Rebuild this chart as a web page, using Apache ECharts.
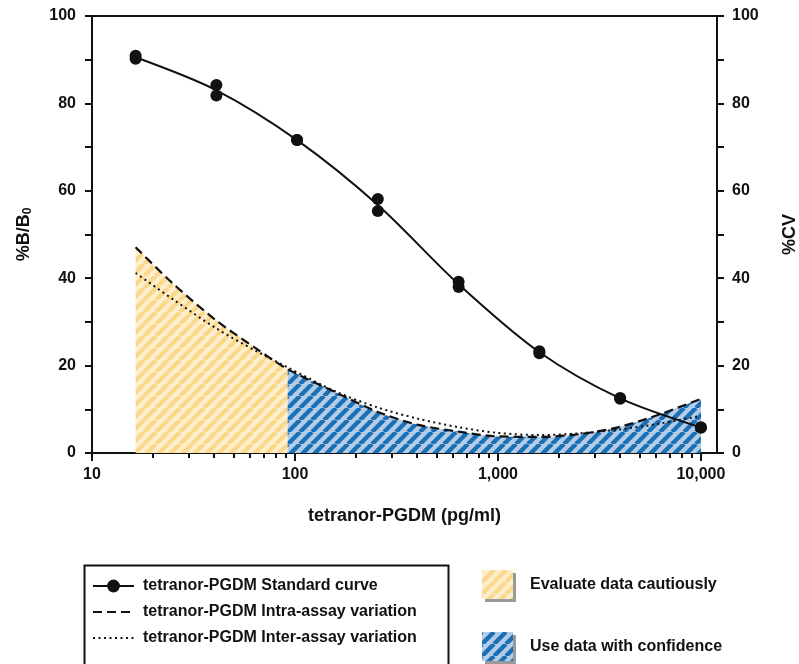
<!DOCTYPE html>
<html>
<head>
<meta charset="utf-8">
<script src="https://cdn.jsdelivr.net/npm/echarts@6/dist/echarts.min.js"></script>
<style>
  html, body { margin: 0; padding: 0; background: #fff; }
  #chart { width: 799px; height: 664px; }
</style>
</head>
<body>
<div id="chart"></div>
<script>
// standard curve, duplicate readings (%B/B0) at each concentration (pg/ml)
const conc = [16.4, 41, 102.4, 256, 640, 1600, 4000, 10000];
const rep1 = [90.9, 84.2, 71.6, 58.1, 39.2, 23.3, 12.6, 5.9];
const rep2 = [90.2, 81.8, 71.6, 55.4, 38.0, 22.8, 12.4, 5.8];

// %CV curves
const cvConc = [16.4, 25, 41, 64, 92, 160, 256, 400, 640, 1000, 1600, 2500, 4000, 6400, 10000];
const intraCV = [47.1, 38.8, 30.3, 24.0, 19.2, 13.8, 9.4, 6.5, 4.9, 3.8, 3.7, 4.3, 6.0, 9.0, 12.4];
const interCV = [41.2, 35.2, 28.5, 23.4, 19.6, 14.0, 10.4, 7.9, 5.9, 4.6, 4.1, 4.5, 5.4, 6.8, 8.5];
const cautionLimit = 92; // below this use data cautiously

const majorTicks = [10, 100, 1000, 10000];
const minorTicks = [20, 30, 40, 50, 60, 70, 80, 90,
  200, 300, 400, 500, 600, 700, 800, 900,
  2000, 3000, 4000, 5000, 6000, 7000, 8000, 9000];

const names = {
  std: "tetranor-PGDM Standard curve",
  intra: "tetranor-PGDM Intra-assay variation",
  inter: "tetranor-PGDM Inter-assay variation",
  caution: "Evaluate data cautiously",
  confident: "Use data with confidence",
};

const font = "'Liberation Sans', Arial, Helvetica, sans-serif";
const ink = "#111";

// diagonal stripe fill
function hatch(bg, fg) {
  const s = 12;
  const c = document.createElement("canvas");
  c.width = s;
  c.height = s;
  const g = c.getContext("2d");
  g.fillStyle = bg;
  g.fillRect(0, 0, s, s);
  g.strokeStyle = fg;
  g.lineWidth = 4.4;
  for (let k = -1; k <= 1; k++) {
    g.beginPath();
    g.moveTo(k * s, s);
    g.lineTo(k * s + s, 0);
    g.stroke();
  }
  return { image: c, repeat: "repeat" };
}
const yellowHatch = hatch("#fdefcb", "#fcd88c");
const blueHatch = hatch("#b3cce8", "#1b6fb5");

const stdPoints = [];
const stdMeans = [];
conc.forEach((c, i) => {
  stdPoints.push([c, rep1[i]], [c, rep2[i]]);
  stdMeans.push([c, (rep1[i] + rep2[i]) / 2]);
});
const intraPts = cvConc.map((c, i) => [c, intraCV[i]]);
const interPts = cvConc.map((c, i) => [c, interCV[i]]);
const cautionPts = intraPts.filter((p) => p[0] <= cautionLimit);
const confidentPts = intraPts.filter((p) => p[0] >= cautionLimit);

function fmtX(v) {
  return String(Math.round(v)).replace(/\B(?=(\d{3})+(?!\d))/g, ",");
}

const axisLine = { show: true, lineStyle: { color: ink, width: 2 } };
const tickStyle = { color: ink, width: 2 };
const labelStyle = { fontSize: 16, fontWeight: "bold", color: ink, fontFamily: font };

const myChart = echarts.init(document.getElementById("chart"));
myChart.setOption({
  animation: false,
  textStyle: { fontFamily: font, color: ink },
  grid: {
    left: 92, right: 82, top: 16, bottom: 211,
    containLabel: false,
    outerBoundsMode: "none",
    show: true, borderColor: ink, borderWidth: 2, backgroundColor: "transparent",
  },
  xAxis: [
    {
      type: "log",
      min: 10,
      max: 12000,
      position: "bottom",
      axisLine: axisLine,
      axisTick: { customValues: majorTicks, length: 8, lineStyle: tickStyle },
      axisLabel: Object.assign({ customValues: majorTicks, formatter: fmtX, margin: 14 }, labelStyle),
      splitLine: { show: false },
      name: "tetranor-PGDM (pg/ml)",
      nameLocation: "middle",
      nameGap: 54,
      nameTextStyle: { fontSize: 18, fontWeight: "bold", color: ink },
    },
    {
      type: "log",
      min: 10,
      max: 12000,
      position: "bottom",
      axisLine: { show: false },
      axisTick: { customValues: minorTicks, length: 5, lineStyle: tickStyle },
      axisLabel: { show: false },
      splitLine: { show: false },
    },
  ],
  yAxis: [
    {
      type: "value",
      min: 0,
      max: 100,
      interval: 10,
      position: "left",
      axisLine: axisLine,
      axisTick: { show: true, length: 7, lineStyle: tickStyle },
      axisLabel: Object.assign({ formatter: (v) => (v % 20 === 0 ? v : ""), margin: 16 }, labelStyle),
      splitLine: { show: false },
      name: "{a|%B/B}{b|0}",
      nameLocation: "middle",
      nameRotate: 90,
      nameGap: 58,
      nameTextStyle: {
        rich: {
          a: { fontSize: 18, fontWeight: "bold", color: ink, fontFamily: font },
          b: { fontSize: 12, fontWeight: "bold", color: ink, fontFamily: font, verticalAlign: "bottom", padding: [8, 0, 0, 0] },
        },
      },
    },
    {
      type: "value",
      min: 0,
      max: 100,
      interval: 10,
      position: "right",
      axisLine: axisLine,
      axisTick: { show: true, length: 7, lineStyle: tickStyle },
      axisLabel: Object.assign({ formatter: (v) => (v % 20 === 0 ? v : ""), margin: 15 }, labelStyle),
      splitLine: { show: false },
      name: "%CV",
      nameLocation: "middle",
      nameRotate: 90,
      nameGap: 64,
      nameTextStyle: { fontSize: 18, fontWeight: "bold", color: ink },
    },
  ],
  legend: [
    {
      orient: "vertical",
      left: 92,
      top: 578,
      padding: 0,
      itemWidth: 41,
      itemHeight: 16,
      itemGap: 10,
      selectedMode: false,
      data: [
        { name: names.std },
        { name: names.intra, itemStyle: { opacity: 0 } },
        { name: names.inter, itemStyle: { opacity: 0 } },
      ],
      textStyle: { fontSize: 16, fontWeight: "bold", color: ink, padding: [0, 0, 0, 4] },
    },
    {
      orient: "vertical",
      left: 482,
      top: 570,
      padding: 0,
      height: 94,
      itemWidth: 31,
      itemHeight: 29,
      itemGap: 33,
      selectedMode: false,
      data: [
        { name: names.caution, icon: "rect" },
        { name: names.confident, icon: "rect" },
      ],
      textStyle: { fontSize: 16, fontWeight: "bold", color: ink, padding: [4, 0, 0, 12] },
    },
  ],
  graphic: [
    {
      type: "rect",
      left: 82,
      top: 563,
      shape: { width: 364, height: 130 },
      style: { fill: "none", stroke: ink, lineWidth: 2 },
      silent: true,
    },
    // drop shadows behind the two swatches
    {
      type: "rect",
      left: 485,
      top: 573,
      z: 0,
      shape: { width: 31, height: 29 },
      style: { fill: "#9a9a9a" },
      silent: true,
    },
    {
      type: "rect",
      left: 485,
      top: 635,
      z: 0,
      shape: { width: 31, height: 29 },
      style: { fill: "#9a9a9a" },
      silent: true,
    },
  ],
  series: [
    {
      name: names.caution,
      type: "line",
      yAxisIndex: 1,
      data: cautionPts,
      smooth: 0.3,
      showSymbol: false,
      symbol: "none",
      lineStyle: { width: 0 },
      itemStyle: { color: yellowHatch },
      areaStyle: { color: yellowHatch, opacity: 1 },
      z: 1,
    },
    {
      name: names.confident,
      type: "line",
      yAxisIndex: 1,
      data: confidentPts,
      smooth: 0.3,
      showSymbol: false,
      symbol: "none",
      lineStyle: { width: 0 },
      itemStyle: { color: blueHatch },
      areaStyle: { color: blueHatch, opacity: 1 },
      z: 1,
    },
    {
      name: names.inter,
      type: "line",
      yAxisIndex: 1,
      data: interPts,
      smooth: 0.3,
      showSymbol: false,
      symbol: "none",
      itemStyle: { color: ink },
      lineStyle: { color: ink, width: 2, type: [2, 3.5] },
      z: 3,
    },
    {
      name: names.intra,
      type: "line",
      yAxisIndex: 1,
      data: intraPts,
      smooth: 0.3,
      showSymbol: false,
      symbol: "none",
      itemStyle: { color: ink },
      lineStyle: { color: ink, width: 2.2, type: [9, 5] },
      z: 4,
    },
    {
      name: names.std,
      type: "line",
      yAxisIndex: 0,
      data: stdMeans,
      smooth: 0.3,
      showSymbol: false,
      symbol: "circle",
      itemStyle: { color: ink },
      lineStyle: { color: ink, width: 2 },
      z: 5,
    },
    {
      name: "replicates",
      type: "scatter",
      yAxisIndex: 0,
      data: stdPoints,
      symbol: "circle",
      symbolSize: 12,
      itemStyle: { color: ink, opacity: 1 },
      z: 6,
    },
  ],
});
</script>
</body>
</html>
